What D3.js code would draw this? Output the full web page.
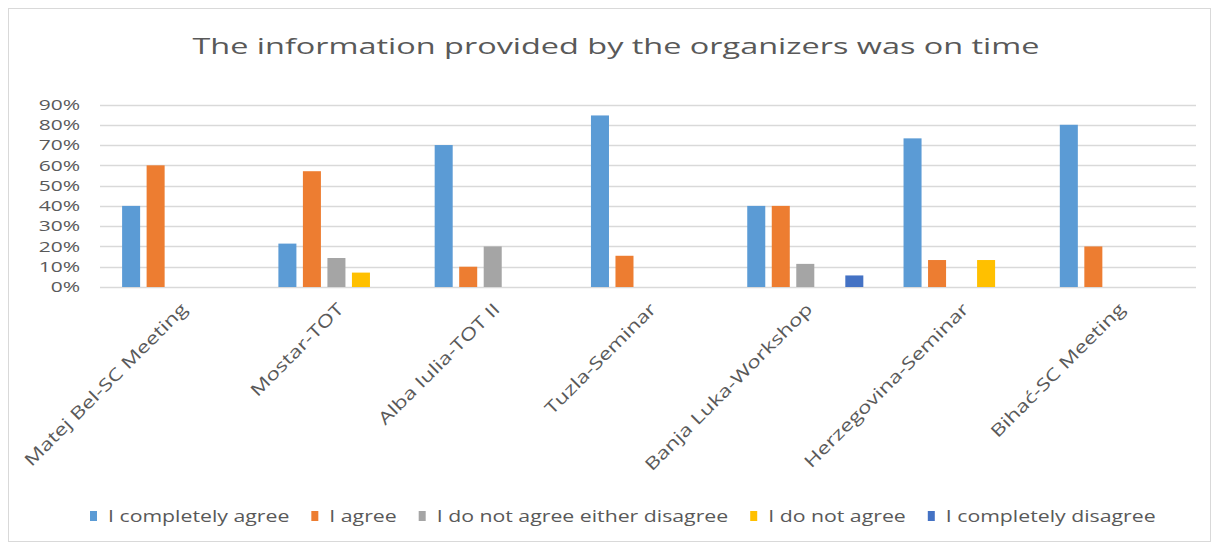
<!DOCTYPE html>
<html>
<head>
<meta charset="utf-8">
<script src="https://cdn.jsdelivr.net/npm/d3@7"></script>
<style>
  html, body { margin: 0; padding: 0; background: #fff; }
  svg { display: block; font-family: "Open Sans", sans-serif; }
</style>
</head>
<body>
<svg id="chart" width="1219" height="549"></svg>
<script>
const title = "The information provided by the organizers was on time";
const categories = ["Matej Bel-SC Meeting", "Mostar-TOT", "Alba Iulia-TOT II", "Tuzla-Seminar",
  "Banja Luka-Workshop", "Herzegovina-Seminar", "Bihać-SC Meeting"];
const seriesNames = ["I completely agree", "I agree", "I do not agree either disagree",
  "I do not agree", "I completely disagree"];
const completelyAgree   = [0.40, 0.214, 0.70, 0.846, 0.40, 0.733, 0.80];
const agree             = [0.60, 0.571, 0.10, 0.154, 0.40, 0.133, 0.20];
const neither           = [0, 0.143, 0.20, 0, 0.114, 0, 0];
const doNotAgree        = [0, 0.071, 0, 0, 0, 0.133, 0];
const completelyDisagree= [0, 0, 0, 0, 0.057, 0, 0];
const seriesValues = [completelyAgree, agree, neither, doNotAgree, completelyDisagree];
const colors = ["#5B9BD5", "#ED7D31", "#A5A5A5", "#FFC000", "#4472C4"];
const yTicks = [0, 0.1, 0.2, 0.3, 0.4, 0.5, 0.6, 0.7, 0.8, 0.9];

const svg = d3.select("#chart");
const textColor = "#595959";

function stretch(sel, k) {
  sel.each(function() {
    const w = this.getComputedTextLength();
    d3.select(this).attr("textLength", w * k).attr("lengthAdjust", "spacingAndGlyphs");
  });
}

// outer border
svg.append("rect").attr("x", 8.5).attr("y", 8.5).attr("width", 1202).attr("height", 533)
  .attr("fill", "#fff").attr("stroke", "#D9D9D9");

// title
svg.append("text").attr("x", 616).attr("y", 54).attr("text-anchor", "middle")
  .attr("font-size", 22).attr("fill", textColor).text(title)
  .attr("textLength", 847).attr("lengthAdjust", "spacingAndGlyphs");

const x0 = d3.scaleBand().domain(categories).range([102, 1196]).padding(0);
const x1 = d3.scaleBand().domain(seriesNames).range([0, x0.bandwidth()])
  .paddingInner(0.265).paddingOuter(0.82);
const y = d3.scaleLinear().domain([0, 0.9]).range([287, 104.5]);

// gridlines
svg.append("g").selectAll("line").data(yTicks).join("line")
  .attr("x1", 100).attr("x2", 1196)
  .attr("y1", d => Math.round(y(d)) + 0.5).attr("y2", d => Math.round(y(d)) + 0.5)
  .attr("stroke", "#D9D9D9").attr("stroke-width", 1.5);

// y axis labels via d3 axis
const yAxis = svg.append("g").attr("transform", "translate(80,0)")
  .call(d3.axisLeft(y).tickValues(yTicks).tickFormat(d3.format(".0%")).tickSize(0).tickPadding(0));
yAxis.select(".domain").remove();
yAxis.selectAll("text").attr("font-size", 15).attr("fill", textColor)
  .attr("font-family", "Open Sans").call(stretch, 1.4);

// bars
const groups = svg.append("g").selectAll("g").data(categories).join("g")
  .attr("transform", d => `translate(${x0(d)},0)`);
groups.selectAll("rect")
  .data((c, ci) => seriesNames.map((s, si) => ({ s, si, v: seriesValues[si][ci] })))
  .join("rect")
  .attr("x", d => x1(d.s)).attr("width", x1.bandwidth())
  .attr("y", d => y(d.v)).attr("height", d => y(0) - y(d.v))
  .attr("fill", d => colors[d.si]);

// x labels
svg.append("g").selectAll("text").data(categories).join("text")
  .attr("transform", d => `translate(${x0(d) + x0.bandwidth() / 2 + 4},306) rotate(-45)`)
  .attr("text-anchor", "end").attr("dy", "0.35em")
  .attr("font-size", 17).attr("fill", textColor).text(d => d)
  .call(stretch, 1.32);

// legend
const legend = svg.append("g");
let lx = 90;
seriesNames.forEach((s, i) => {
  legend.append("rect").attr("x", lx).attr("y", 511).attr("width", 7).attr("height", 10)
    .attr("fill", colors[i]);
  const t = legend.append("text").attr("x", lx + 18).attr("y", 516).attr("dy", "0.35em")
    .attr("font-size", 17).attr("fill", textColor).text(s);
  t.call(stretch, 1.25);
  lx = lx + 18 + (+t.attr("textLength")) + 22;
});
</script>
</body>
</html>
